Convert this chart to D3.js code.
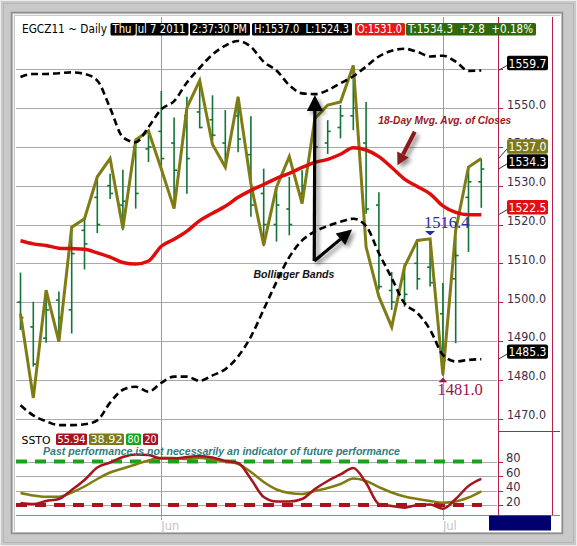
<!DOCTYPE html>
<html><head><meta charset="utf-8">
<script src="https://cdn.jsdelivr.net/npm/d3@7"></script>
<style>html,body{margin:0;padding:0;background:#c8c8c8;}svg{display:block;}</style>
</head><body>
<script>
// ---------- DATA ----------
const dates = ["May 16","May 17","May 18","May 19","May 20","May 23","May 24","May 25","May 26","May 27","May 31",
  "Jun 1","Jun 2","Jun 3","Jun 6","Jun 7","Jun 8","Jun 9","Jun 10","Jun 13","Jun 14","Jun 15","Jun 16","Jun 17",
  "Jun 20","Jun 21","Jun 22","Jun 23","Jun 24","Jun 27","Jun 28","Jun 29","Jun 30","Jul 1","Jul 5","Jul 6","Jul 7"];
const openVals  = [1500,1493.6,1490.7,1500.5,1498,1518.5,1527,1530,1525,1540,1539.5,1544,1541,1548,1549,1547,1541,1548,1538,1528,1520,1524,1528,1536,1541,1545,1548,1541,1525,1503,1506,1510,1509,1497,1506,1527,1531.0];
const highVals  = [1507.6,1500.1,1503,1502.7,1519.3,1521.5,1532.3,1533.1,1534.1,1541.8,1543.5,1554.4,1547.6,1552.9,1557.1,1553.3,1549.5,1552.9,1547.9,1534.4,1529.6,1532.3,1534,1547.3,1546.9,1550.8,1561.0,1551.6,1528.3,1507.8,1510,1515.9,1516.4,1504.9,1516.8,1534.8,1537.0];
const lowVals   = [1492.8,1483.4,1489.5,1491,1491.9,1508.4,1517.8,1526.6,1518.5,1524.1,1536.1,1534,1524.1,1527.9,1544.8,1541.7,1536.1,1538.6,1522,1514.4,1515.6,1517.2,1525.4,1533.2,1538.2,1542.2,1544.3,1522.8,1503.2,1498,1498.8,1503.2,1504,1481.0,1489.4,1512.9,1524.3];
const closeVals = [1496,1484,1498,1496,1512.5,1515,1520,1528,1526,1528,1540,1537,1534,1537,1545,1543,1538,1542,1525,1520,1525,1520,1530,1540,1544,1548,1550,1524,1504,1500,1502,1506,1505,1485,1512,1531,1534.3];
const oliveVals = [1497,1475.3,1503.1,1489.8,1519.3,1521.5,1532.3,1537,1519,1541.8,1544.1,1534.3,1524.1,1550.1,1557.1,1540.6,1534.8,1552.9,1530.5,1514.7,1529.6,1537.5,1525.4,1547.3,1550.8,1551.6,1561.0,1514.2,1501.4,1493.6,1509.1,1515.9,1516.3,1481.3,1518.5,1534.8,1537.0];
const upperBand = [1558,1558.8,1558.8,1559,1559.2,1558.8,1557.1,1550,1542.5,1541.2,1545.1,1549.7,1551.8,1556.6,1560.4,1563.8,1566.1,1567.3,1565.8,1561.9,1559.7,1555.9,1553.8,1553.6,1554.6,1556.4,1558.2,1560.7,1563.3,1564.8,1565.3,1564.5,1563.3,1563.5,1562,1559.6,1559.7];
const lowerBand = [1473.4,1470.8,1469.3,1468.3,1468.3,1468.5,1469.5,1474.1,1477.4,1478.2,1476.9,1479.2,1480.8,1480.8,1479.7,1481.1,1482.7,1486,1491.1,1498.1,1505.2,1511.6,1515.9,1518.2,1519.6,1520.7,1521.5,1519.6,1512.6,1506.2,1499.7,1497.2,1492.9,1486.4,1484.7,1485.1,1485.3];
const maVals    = [1515.8,1515,1514.6,1513.9,1513.8,1513.6,1512.7,1511.6,1510.2,1509.8,1510.6,1514.4,1516.2,1518.3,1521,1522.9,1524.7,1527,1528.8,1530.3,1531.9,1533.2,1534.7,1536,1536.8,1538.1,1539.8,1539.2,1537.5,1534.7,1531.7,1529.8,1527.9,1524.8,1523.1,1522.5,1522.5];
const stoK      = [22.8,21.4,25.5,28.3,40.7,54.5,71.7,78.6,86.2,89.7,89,84.1,84.1,86.2,87.6,85.5,80.7,77.9,55.9,31,24.8,24.8,28.3,42,53.1,62.1,71,50.3,21.4,18.6,16.3,20,20.7,14.9,28.3,46.2,55.94];
const stoD      = [36.6,33.1,31.4,31.4,37.2,45.5,55.9,64.8,70.3,75.9,81.4,85.2,84.8,83.4,84.8,82.8,80,76.6,65.5,51.7,41.4,36.6,35.2,39.3,43.4,49,56.6,53.1,44.8,37.2,31.7,28.3,25.5,23.2,24.8,30.3,38.92];
const priceGrid = [1470,1480,1490,1500,1510,1520,1530,1540,1550,1560];
const priceLabels = [1470,1480,1490,1500,1510,1520,1530,1540,1550];
const stoTicks = [20,40,60,80];
const monthMarks = [{date:"Jun 1", label:"Jun"},{date:"Jul 1", label:"Jul"}];
const headerItems = [
  {text:"Thu Jul 7 2011", fill:"#000000"},
  {text:"2:37:30 PM", fill:"#000000"},
  {text:"H:1537.0  L:1524.3", fill:"#000000"},
  {text:"O:1531.0", fill:"#e81818"},
  {text:"T:1534.3  +2.8  +0.18%", fill:"#2f6a06"}
];
const stoLegend = [
  {text:"55.94", fill:"#a8141c"},
  {text:"38.92", fill:"#7d7a1a"},
  {text:"80", fill:"#19a319"},
  {text:"20", fill:"#a8141c"}
];
const lastValues = [
  {v:1559.7, fill:"#000000"},
  {v:1537.0, fill:"#7d7a1a"},
  {v:1534.3, fill:"#000000"},
  {v:1522.5, fill:"#e01010"},
  {v:1485.3, fill:"#000000"}
];
const swingHigh = {date:"Jun 30", v:1516.4};
const swingLow  = {date:"Jul 1", v:1481.0};

// ---------- LAYOUT ----------
const W = 577, H = 546;
const plotL = 16, plotR = 498, plotT = 17, mainB = 431, stoB = 515, axR = 552;
const svg = d3.select("body").append("svg").attr("width", W).attr("height", H);
const defs = svg.append("defs");
const sh = defs.append("filter").attr("id","shadow").attr("x","-50%").attr("y","-50%").attr("width","200%").attr("height","200%");
sh.append("feGaussianBlur").attr("in","SourceAlpha").attr("stdDeviation",2.2).attr("result","b");
sh.append("feOffset").attr("in","b").attr("dx",3).attr("dy",3).attr("result","o");
sh.append("feComponentTransfer").attr("in","o").attr("result","o2").append("feFuncA").attr("type","linear").attr("slope",0.45);
const fm = sh.append("feMerge"); fm.append("feMergeNode").attr("in","o2"); fm.append("feMergeNode").attr("in","SourceGraphic");
// clip so the 1540.0 label only peeks out above the olive value box, as in the reference
defs.append("clipPath").attr("id","peek").append("rect").attr("x",500).attr("y",0).attr("width",60).attr("height",139.5);

// frame
svg.append("rect").attr("width",W).attr("height",H).attr("fill","#c9c9c9");
svg.append("rect").attr("x",0.5).attr("y",0.5).attr("width",W-1).attr("height",H-1).attr("fill","none").attr("stroke","#ececec");
svg.append("rect").attr("x",3.5).attr("y",3.5).attr("width",W-7).attr("height",H-7).attr("fill","none").attr("stroke","#b4b4b4");
svg.append("rect").attr("x",11.5).attr("y",12.5).attr("width",551).attr("height",521).attr("fill","none").attr("stroke","#8e8e8e").attr("stroke-width",1.5);
svg.append("rect").attr("x",13.5).attr("y",14.5).attr("width",547).attr("height",517).attr("fill","none").attr("stroke","#f2f2f2");
svg.append("rect").attr("x",15).attr("y",16).attr("width",546).attr("height",516).attr("fill","#ffffff");

// scales
const x = d3.scalePoint().domain(dates).range([20.5, 481.3]);
const xi = d3.scaleLinear().domain([0, dates.length-1]).range([20.5, 481.3]);
const y = d3.scaleLinear().domain([1470, 1560]).range([418.5, 69.3]);
const ys = d3.scaleLinear().domain([0, 100]).range([519.5, 447.0]);

// grid
const g = svg.append("g");
g.selectAll(".pg").data(priceGrid).join("line")
  .attr("x1",plotL).attr("x2",plotR-1).attr("y1",d=>Math.round(y(d))+0.5).attr("y2",d=>Math.round(y(d))+0.5)
  .attr("stroke","#a9a9a9").attr("stroke-width",1);
g.selectAll(".sg").data(stoTicks).join("line")
  .attr("x1",plotL).attr("x2",plotR-1).attr("y1",d=>Math.round(ys(d))+0.5).attr("y2",d=>Math.round(ys(d))+0.5)
  .attr("stroke","#a9a9a9").attr("stroke-width",1);
g.selectAll(".vg").data(monthMarks).join("line")
  .attr("x1",d=>Math.round(x(d.date))+0.5).attr("x2",d=>Math.round(x(d.date))+0.5)
  .attr("y1",plotT).attr("y2",stoB).attr("stroke","#9a9a9a");
g.selectAll(".vt").data(monthMarks).join("line")
  .attr("x1",d=>Math.round(x(d.date))+0.5).attr("x2",d=>Math.round(x(d.date))+0.5)
  .attr("y1",stoB).attr("y2",520).attr("stroke","#c890a8");

// axis frame lines
const crim = "#b8204a";
svg.append("line").attr("x1",plotR+0.5).attr("x2",plotR+0.5).attr("y1",plotT).attr("y2",stoB).attr("stroke",crim);
svg.append("line").attr("x1",axR+0.5).attr("x2",axR+0.5).attr("y1",plotT).attr("y2",stoB).attr("stroke",crim);
svg.append("line").attr("x1",plotR).attr("x2",560).attr("y1",mainB+0.5).attr("y2",mainB+0.5).attr("stroke",crim);
svg.append("line").attr("x1",plotL).attr("x2",560).attr("y1",stoB+0.5).attr("y2",stoB+0.5).attr("stroke","#c86a8c");

// price axis ticks + labels
const ax = svg.append("g");
ax.selectAll("line").data(priceGrid).join("line")
  .attr("x1",plotR).attr("x2",plotR+5).attr("y1",d=>Math.round(y(d))+0.5).attr("y2",d=>Math.round(y(d))+0.5).attr("stroke",crim);
ax.selectAll("text").data(priceLabels).join("text")
  .attr("x",507).attr("y",d=>y(d)+0.5).attr("font-family","DejaVu Sans, Verdana, sans-serif").attr("font-size",11.5)
  .attr("fill","#3a2c48").attr("textLength",39).attr("lengthAdjust","spacingAndGlyphs")
  .attr("clip-path",d=>d===1540?"url(#peek)":null).text(d=>d.toFixed(1));
const sx = svg.append("g");
sx.selectAll("line").data(stoTicks).join("line")
  .attr("x1",plotR).attr("x2",plotR+5).attr("y1",d=>Math.round(ys(d))+0.5).attr("y2",d=>Math.round(ys(d))+0.5).attr("stroke",crim);
sx.selectAll("text").data(stoTicks).join("text")
  .attr("x",506).attr("y",d=>ys(d)+0.5).attr("font-family","DejaVu Sans, Verdana, sans-serif").attr("font-size",11.5)
  .attr("fill","#3a2c48").text(d=>d);

// month labels
svg.selectAll(".ml").data(monthMarks).join("text")
  .attr("x",d=>x(d.date)).attr("y",530).attr("font-family","DejaVu Sans, Verdana, sans-serif").attr("font-size",11.5)
  .attr("fill","#c4c4c4").text(d=>d.label);
svg.append("rect").attr("x",489).attr("y",515.5).attr("width",62).attr("height",15).attr("fill","#00006e");

// ---------- MAIN MARKS ----------
const idx = d3.range(dates.length);
const bars = svg.append("g").attr("stroke","#127435").attr("stroke-width",1.6);
bars.selectAll(".hl").data(idx).join("line")
  .attr("x1",i=>x(dates[i])).attr("x2",i=>x(dates[i])).attr("y1",i=>y(highVals[i])).attr("y2",i=>y(lowVals[i]));
bars.selectAll(".op").data(idx).join("line")
  .attr("x1",i=>x(dates[i])-3).attr("x2",i=>x(dates[i])).attr("y1",i=>y(openVals[i])).attr("y2",i=>y(openVals[i]));
bars.selectAll(".cl").data(idx).join("line")
  .attr("x1",i=>x(dates[i])).attr("x2",i=>x(dates[i])+3).attr("y1",i=>y(closeVals[i])).attr("y2",i=>y(closeVals[i]));

const lineOf = (arr, ysc) => d3.line().x((d,i)=>x(dates[i])).y(d=>ysc(d))(arr);
const lineSmooth = (arr, ysc) => d3.line().x((d,i)=>x(dates[i])).y(d=>ysc(d)).curve(d3.curveMonotoneX)(arr);

svg.append("path").attr("d",lineOf(oliveVals,y)).attr("fill","none").attr("stroke","#7f7c14").attr("stroke-width",3).attr("stroke-linejoin","miter");
svg.append("path").attr("d",lineSmooth(upperBand,y)).attr("fill","none").attr("stroke","#000").attr("stroke-width",2.6).attr("stroke-dasharray","7,4");
svg.append("path").attr("d",lineSmooth(lowerBand,y)).attr("fill","none").attr("stroke","#000").attr("stroke-width",2.6).attr("stroke-dasharray","7,4");
svg.append("path").attr("d",lineSmooth(maVals,y)).attr("fill","none").attr("stroke","#e00c0c").attr("stroke-width",3.5);

// swing markers
const hx = x(swingHigh.date), hy = y(swingHigh.v);
svg.append("path").attr("d",`M${hx-5},${hy-7.5}L${hx+5},${hy-7.5}L${hx},${hy-3}Z`).attr("fill","#1f2bb0");
svg.append("text").attr("x",hx-6).attr("y",hy-10).attr("font-family","Liberation Serif, Times New Roman, serif").attr("font-size",16.5)
  .attr("fill","#1f2bb0").text(swingHigh.v.toFixed(1));
const lx = x(swingLow.date), ly = y(swingLow.v);
svg.append("path").attr("d",`M${lx-4.5},${ly+6.5}L${lx+4.5},${ly+6.5}L${lx},${ly+2}Z`).attr("fill","#9c1246");
svg.append("text").attr("x",lx-5.5).attr("y",ly+19.5).attr("font-family","Liberation Serif, Times New Roman, serif").attr("font-size",16.5)
  .attr("fill","#9c1246").text(swingLow.v.toFixed(1));

// annotations
const ann = svg.append("g").attr("filter","url(#shadow)");
function arrow(x1,y1,x2,y2,color,w,hl,hw){
  const a = Math.atan2(y2-y1,x2-x1);
  const bx = x2 - hl*Math.cos(a), by = y2 - hl*Math.sin(a);
  ann.append("line").attr("x1",x1).attr("y1",y1).attr("x2",bx).attr("y2",by).attr("stroke",color).attr("stroke-width",w);
  const px = -Math.sin(a)*hw/2, py = Math.cos(a)*hw/2;
  ann.append("path").attr("d",`M${x2},${y2}L${bx+px},${by+py}L${bx-px},${by-py}Z`).attr("fill",color);
}
const ax0 = xi(22.95), ay0 = y(1510.6);
arrow(ax0, ay0, xi(23.0), y(1553.4), "#000", 3.2, 16, 16);
arrow(ax0, ay0, xi(25.9), y(1518.7), "#000", 3.2, 15, 15);
arrow(xi(30.8), y(1543.9), xi(29.45), y(1535.3), "#8a1a1a", 4, 12, 13);

svg.append("text").attr("x",xi(18.2)).attr("y",y(1506.3)).attr("font-family","Liberation Sans, Arial, sans-serif")
  .attr("font-size",10).attr("font-weight","bold").attr("font-style","italic").attr("fill","#111")
  .attr("textLength",81).attr("lengthAdjust","spacingAndGlyphs").text("Bollinger Bands");
svg.append("text").attr("x",xi(27.95)).attr("y",y(1545.9)).attr("font-family","Liberation Sans, Arial, sans-serif")
  .attr("font-size",10).attr("font-weight","bold").attr("font-style","italic").attr("fill","#a0141c")
  .attr("textLength",133).attr("lengthAdjust","spacingAndGlyphs").text("18-Day Mvg. Avg. of Closes");

// last-value boxes on the price axis
const boxes = lastValues.map(d=>({...d, cy: y(d.v)-7.5}));
boxes.sort((a,b)=>b.cy-a.cy);
for(let k=1;k<boxes.length;k++){ if(boxes[k-1].cy - boxes[k].cy < 15) boxes[k].cy = boxes[k-1].cy - 15; }
const bg = svg.append("g");
boxes.forEach(d=>{
  bg.append("line").attr("x1",plotR+0.5).attr("y1",y(d.v)).attr("x2",507).attr("y2",d.cy+2.5).attr("stroke","#333").attr("stroke-width",1);
  bg.append("rect").attr("x",507).attr("y",d.cy-7.2).attr("width",41).attr("height",14.4).attr("rx",2).attr("fill",d.fill);
  bg.append("text").attr("x",527.5).attr("y",d.cy+4.6).attr("text-anchor","middle").attr("font-family","DejaVu Sans, Verdana, sans-serif")
    .attr("font-size",11.5).attr("fill","#fff").attr("textLength",38).attr("lengthAdjust","spacingAndGlyphs").text(d.v.toFixed(1));
});

// ---------- STOCHASTIC PANEL ----------
svg.append("line").attr("x1",plotL).attr("x2",482).attr("y1",ys(80)).attr("y2",ys(80)).attr("stroke","#1aa31a").attr("stroke-width",4).attr("stroke-dasharray","11,8");
svg.append("line").attr("x1",plotL).attr("x2",482).attr("y1",ys(20)).attr("y2",ys(20)).attr("stroke","#a8141c").attr("stroke-width",4).attr("stroke-dasharray","11,8");
svg.append("path").attr("d",lineSmooth(stoD,ys)).attr("fill","none").attr("stroke","#7f7c14").attr("stroke-width",2.5);
svg.append("path").attr("d",lineSmooth(stoK,ys)).attr("fill","none").attr("stroke","#a8141c").attr("stroke-width",2.5);

svg.append("text").attr("x",21.5).attr("y",443.5).attr("font-family","DejaVu Sans, Verdana, sans-serif").attr("font-size",11)
  .attr("fill","#000").attr("textLength",29).attr("lengthAdjust","spacingAndGlyphs").text("SSTO");
const legX = [56, 89, 126, 143], legW = [31, 35, 15, 15];
stoLegend.forEach((d,k)=>{
  svg.append("rect").attr("x",legX[k]).attr("y",433.5).attr("width",legW[k]).attr("height",11.5).attr("rx",1.5).attr("fill",d.fill);
  svg.append("text").attr("x",legX[k]+legW[k]/2).attr("y",443).attr("text-anchor","middle").attr("font-family","DejaVu Sans, Verdana, sans-serif")
    .attr("font-size",10.5).attr("fill","#fff").attr("textLength",legW[k]-3).attr("lengthAdjust","spacingAndGlyphs").text(d.text);
});
svg.append("text").attr("x",43).attr("y",454.5).attr("font-family","Liberation Sans, Arial, sans-serif").attr("font-size",10)
  .attr("font-weight","bold").attr("font-style","italic").attr("fill","#2e7d7d")
  .attr("textLength",357).attr("lengthAdjust","spacingAndGlyphs").text("Past performance is not necessarily an indicator of future performance");

// ---------- HEADER ----------
svg.append("text").attr("x",22).attr("y",33).attr("font-family","DejaVu Sans, Verdana, sans-serif").attr("font-size",11.5)
  .attr("fill","#000").attr("textLength",85).attr("lengthAdjust","spacingAndGlyphs").text("EGCZ11 ~ Daily");
const hX = [110.5, 190, 252, 355, 406], hWd = [78, 60, 100, 50, 130];
headerItems.forEach((d,k)=>{
  svg.append("rect").attr("x",hX[k]).attr("y",23).attr("width",hWd[k]).attr("height",12.5).attr("rx",1.5).attr("fill",d.fill);
  svg.append("text").attr("x",hX[k]+2).attr("y",33.3).attr("font-family","DejaVu Sans, Verdana, sans-serif").attr("font-size",11.5)
    .attr("fill","#fff").attr("textLength",hWd[k]-5).attr("lengthAdjust","spacingAndGlyphs").style("white-space","pre").text(d.text);
});
</script>
</body></html>
